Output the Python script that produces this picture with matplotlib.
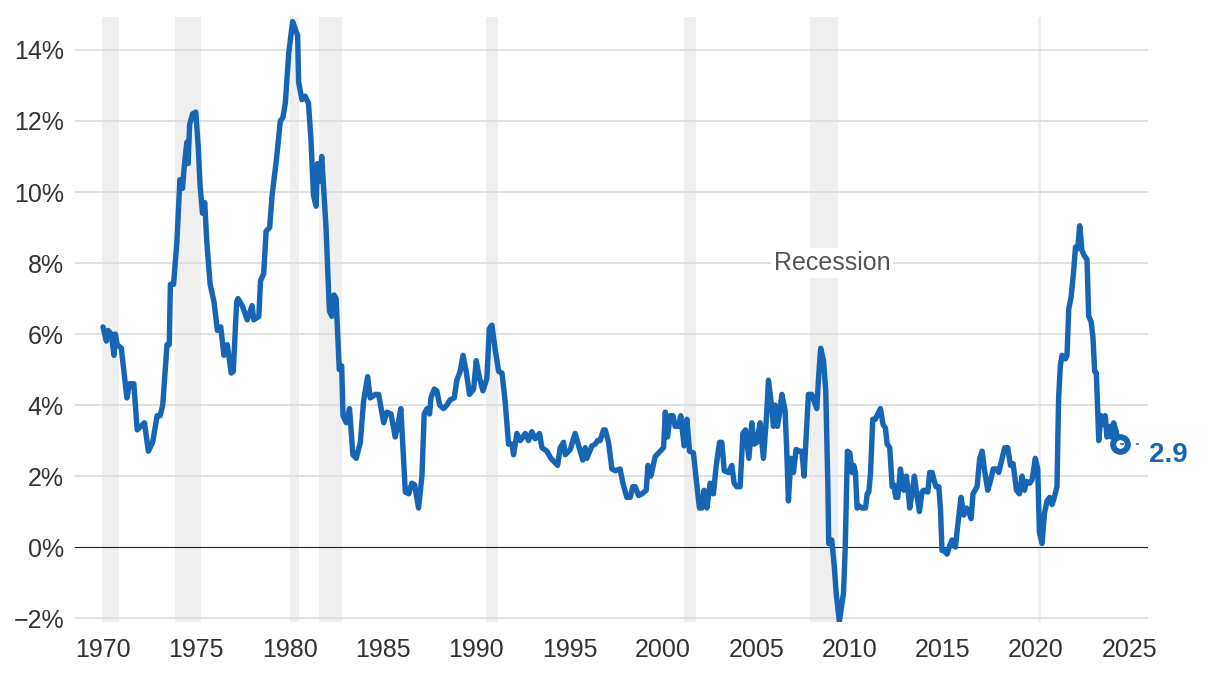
import numpy as np
import matplotlib
matplotlib.use('Agg')
import matplotlib.pyplot as plt

plt.rcParams['font.family'] = ['Liberation Sans', 'DejaVu Sans']

# CPI, year-over-year % change
dates_1970s = [1970.0, 1970.18, 1970.27, 1970.44, 1970.59, 1970.66, 1970.76, 1970.98,
               1971.28, 1971.42, 1971.65, 1971.83, 1972.22, 1972.43, 1972.66, 1972.90,
               1973.06, 1973.20, 1973.43, 1973.55, 1973.61, 1973.78, 1973.96, 1974.12,
               1974.26, 1974.35, 1974.49, 1974.56, 1974.64, 1974.80, 1974.97, 1975.10,
               1975.20, 1975.33, 1975.45, 1975.56, 1975.74, 1975.95, 1976.13, 1976.31,
               1976.48, 1976.66, 1976.87, 1976.98, 1977.16, 1977.23, 1977.46, 1977.73,
               1977.99, 1978.08, 1978.35, 1978.44, 1978.61, 1978.74, 1978.93, 1979.06,
               1979.29, 1979.50, 1979.64, 1979.77, 1979.95]
cpi_1970s = [6.2, 5.8, 6.1, 6.0, 5.4, 6.0, 5.7, 5.6,
             4.2, 4.6, 4.6, 3.3, 3.5, 2.7, 2.95, 3.7,
             3.7, 4.0, 5.7, 5.7, 7.4, 7.4, 8.6, 10.35,
             10.1, 10.7, 11.4, 10.8, 11.9, 12.2, 12.25, 11.3,
             10.2, 9.4, 9.7, 8.6, 7.4, 6.9, 6.1, 6.2,
             5.4, 5.7, 4.9, 4.95, 6.9, 7.0, 6.8, 6.4,
             6.8, 6.4, 6.5, 7.5, 7.7, 8.9, 9.0, 9.9,
             10.9, 12.0, 12.1, 12.5, 13.9]

dates_1980s = [1980.16, 1980.30, 1980.43, 1980.48, 1980.66, 1980.83, 1981.01, 1981.14,
               1981.28, 1981.42, 1981.49, 1981.60, 1981.72, 1981.95, 1982.13, 1982.26,
               1982.38, 1982.49, 1982.66, 1982.79, 1982.86, 1983.04, 1983.21, 1983.39,
               1983.57, 1983.79, 1983.96, 1984.18, 1984.32, 1984.59, 1984.77, 1985.04,
               1985.21, 1985.43, 1985.66, 1985.79, 1985.96, 1986.20, 1986.38, 1986.55,
               1986.70, 1986.91, 1987.09, 1987.21, 1987.36, 1987.50, 1987.57, 1987.75,
               1987.89, 1988.04, 1988.25, 1988.43, 1988.61, 1988.82, 1988.96, 1989.14,
               1989.29, 1989.46, 1989.64, 1989.86]
cpi_1980s = [14.8, 14.6, 14.4, 13.1, 12.6, 12.7, 12.5, 11.5,
             9.9, 9.6, 10.8, 10.3, 11.0, 9.0, 6.65, 6.5,
             7.1, 7.0, 5.0, 5.1, 3.7, 3.5, 3.9, 2.6,
             2.5, 2.95, 4.1, 4.8, 4.2, 4.3, 4.3, 3.5,
             3.8, 3.75, 3.1, 3.4, 3.9, 1.55, 1.5, 1.8,
             1.75, 1.1, 2.0, 3.75, 3.9, 3.75, 4.2, 4.45,
             4.4, 4.0, 3.9, 4.0, 4.15, 4.2, 4.7, 4.95,
             5.4, 4.95, 4.3, 4.45]

dates_1990s = [1990.0, 1990.18, 1990.36, 1990.57, 1990.70, 1990.84, 1991.02, 1991.20,
               1991.38, 1991.55, 1991.73, 1991.91, 1992.0, 1992.18, 1992.36, 1992.63,
               1992.80, 1992.98, 1993.16, 1993.39, 1993.52, 1993.79, 1994.0, 1994.18,
               1994.36, 1994.5, 1994.68, 1994.77, 1995.04, 1995.30, 1995.57, 1995.71,
               1995.84, 1995.93, 1996.20, 1996.38, 1996.5, 1996.64, 1996.82, 1996.91,
               1997.09, 1997.27, 1997.45, 1997.71, 1997.86, 1998.07, 1998.25, 1998.39,
               1998.52, 1998.70, 1998.88, 1999.11, 1999.20, 1999.36, 1999.59, 1999.86]
cpi_1990s = [5.25, 4.75, 4.4, 4.75, 6.15, 6.25, 5.55, 4.95,
             4.9, 4.1, 2.9, 2.9, 2.6, 3.2, 3.0, 3.2,
             3.0, 3.25, 3.05, 3.2, 2.8, 2.7, 2.5, 2.4,
             2.3, 2.8, 2.95, 2.6, 2.75, 3.2, 2.7, 2.45,
             2.8, 2.5, 2.85, 2.9, 3.0, 3.0, 3.3, 3.3,
             2.95, 2.2, 2.15, 2.2, 1.8, 1.4, 1.4, 1.7,
             1.7, 1.45, 1.5, 1.6, 2.3, 2.0, 2.55, 2.7]

dates_2000s = [2000.04, 2000.13, 2000.25, 2000.39, 2000.54, 2000.66, 2000.84, 2000.96,
               2001.14, 2001.29, 2001.43, 2001.64, 2001.79, 2001.96, 2002.09, 2002.21,
               2002.36, 2002.54, 2002.71, 2002.86, 2003.04, 2003.16, 2003.29, 2003.52,
               2003.70, 2003.82, 2003.96, 2004.14, 2004.29, 2004.43, 2004.61, 2004.77,
               2004.89, 2005.04, 2005.21, 2005.39, 2005.54, 2005.66, 2005.79, 2005.93,
               2006.02, 2006.14, 2006.25, 2006.38, 2006.55, 2006.64, 2006.73, 2006.86,
               2007.0, 2007.14, 2007.32, 2007.45, 2007.57, 2007.68, 2007.80, 2007.98,
               2008.11, 2008.25, 2008.36, 2008.46, 2008.61, 2008.73, 2008.84, 2008.89,
               2009.05, 2009.18, 2009.29, 2009.46, 2009.68, 2009.77, 2009.89]
cpi_2000s = [2.8, 3.8, 3.1, 3.7, 3.7, 3.4, 3.4, 3.7,
             2.85, 3.6, 2.7, 2.65, 1.9, 1.1, 1.1, 1.6,
             1.1, 1.8, 1.5, 2.3, 2.95, 2.95, 2.15, 2.1,
             2.3, 1.8, 1.7, 1.7, 3.2, 3.3, 2.5, 3.5,
             2.9, 2.95, 3.5, 2.5, 3.55, 4.7, 4.15, 3.4,
             4.0, 3.4, 3.75, 4.3, 3.85, 2.7, 1.3, 2.5,
             2.1, 2.75, 2.7, 2.7, 2.0, 3.1, 4.3, 4.3,
             4.1, 3.9, 4.9, 5.6, 5.25, 4.4, 1.8, 0.1,
             0.2, -0.5, -1.3, -2.1, -1.3, -0.1, 2.7]

dates_2010s = [2010.02, 2010.14, 2010.23, 2010.32, 2010.41, 2010.55, 2010.68, 2010.86,
               2010.95, 2011.04, 2011.13, 2011.25, 2011.39, 2011.52, 2011.66, 2011.80,
               2011.93, 2012.02, 2012.16, 2012.29, 2012.38, 2012.48, 2012.59, 2012.73,
               2012.91, 2013.05, 2013.14, 2013.23, 2013.36, 2013.48, 2013.63, 2013.75,
               2013.89, 2013.98, 2014.20, 2014.30, 2014.43, 2014.55, 2014.64, 2014.79,
               2014.88, 2014.96, 2015.09, 2015.23, 2015.38, 2015.5, 2015.68, 2015.80,
               2015.98, 2016.13, 2016.27, 2016.39, 2016.52, 2016.62, 2016.84, 2016.98,
               2017.11, 2017.23, 2017.41, 2017.55, 2017.70, 2017.88, 2018.0, 2018.18,
               2018.32, 2018.48, 2018.63, 2018.77, 2018.95, 2019.11, 2019.25, 2019.38,
               2019.48, 2019.66, 2019.79, 2019.96]
cpi_2010s = [2.65, 2.1, 2.3, 2.1, 1.1, 1.15, 1.1, 1.1,
             1.5, 1.55, 2.1, 3.6, 3.6, 3.75, 3.9, 3.45,
             3.35, 2.9, 2.8, 1.7, 1.75, 1.4, 1.4, 2.2,
             1.6, 2.0, 1.6, 1.1, 1.55, 2.0, 1.4, 1.0,
             1.55, 1.6, 1.55, 2.1, 2.1, 1.85, 1.7, 1.7,
             1.05, -0.1, -0.1, -0.2, 0.05, 0.2, 0.0, 0.6,
             1.4, 0.9, 1.1, 1.0, 0.8, 1.5, 1.7, 2.5,
             2.7, 2.2, 1.6, 1.85, 2.2, 2.2, 2.1, 2.5,
             2.8, 2.8, 2.3, 2.35, 1.6, 1.5, 2.0, 1.6,
             1.85, 1.8, 1.9, 2.5]

dates_2020s = [2020.09, 2020.18, 2020.32, 2020.45, 2020.59, 2020.73, 2020.86, 2020.98,
               2021.12, 2021.21, 2021.30, 2021.39, 2021.57, 2021.66, 2021.75, 2021.88,
               2022.02, 2022.11, 2022.23, 2022.34, 2022.46, 2022.59, 2022.73, 2022.82,
               2022.95, 2023.05, 2023.14, 2023.23, 2023.36, 2023.48, 2023.63, 2023.71,
               2023.80, 2023.95, 2024.02, 2024.16, 2024.30, 2024.39, 2024.48]
cpi_2020s = [2.2, 0.4, 0.1, 0.95, 1.3, 1.4, 1.2, 1.4,
             1.7, 4.2, 5.1, 5.4, 5.3, 5.4, 6.7, 7.05,
             7.8, 8.45, 8.4, 9.05, 8.35, 8.2, 8.1, 6.5,
             6.35, 5.9, 4.95, 4.9, 3.0, 3.7, 3.45, 3.7,
             3.1, 3.4, 3.1, 3.5, 3.25, 2.95, 2.9]

# recession periods (start, end)
recessions = [(1969.92, 1970.85), (1973.87, 1975.24), (1980.04, 1980.48),
              (1981.55, 1982.82), (1990.54, 1991.16), (2001.14, 2001.8),
              (2007.9, 2009.4), (2020.13, 2020.29)]

y_ticks = [-2, 0, 2, 4, 6, 8, 10, 12, 14]
x_ticks = [1970, 1975, 1980, 1985, 1990, 1995, 2000, 2005, 2010, 2015, 2020, 2025]

dates = np.array(dates_1970s + dates_1980s + dates_1990s + dates_2000s + dates_2010s + dates_2020s)
cpi = np.array(cpi_1970s + cpi_1980s + cpi_1990s + cpi_2000s + cpi_2010s + cpi_2020s)

blue = '#1766B5'
fig = plt.figure(figsize=(12.2, 6.76), dpi=100)
ax = fig.add_axes([0.0615, 0.0799, 0.8795, 0.895])

for start, end in recessions:
    ax.axvspan(start, end, color='#efefef', lw=0, zorder=0)

for v in y_ticks:
    if v == 0:
        ax.axhline(0, color='#222222', lw=0.8, zorder=1)
    else:
        ax.axhline(v, color='#dcdcdc', lw=1.2, zorder=1)

ax.plot(dates, cpi, color=blue, lw=3.9, solid_joinstyle='round', solid_capstyle='round', zorder=3)

# end point marker + label
ax.plot(dates[-1], cpi[-1], 'o', ms=10.6, mfc='white', mec=blue, mew=4.3, zorder=4)
ax.plot([dates[-1], 2025.52], [cpi[-1], cpi[-1]], color=blue, lw=1.1,
        linestyle=(0, (2.6, 7.8)), zorder=5, clip_on=False)
ax.text(2026.05, cpi[-1] - 0.3, f'{cpi[-1]:.1f}', color=blue, fontsize=20,
        fontweight='bold', ha='left', va='center', clip_on=False)

ax.text(2009.07, 8.0, 'Recession', color='#555555', fontsize=18, ha='center', va='center',
        bbox=dict(facecolor='white', edgecolor='none', pad=2), zorder=2)

ax.set_xlim(1968.5, 2026.0)
ax.set_ylim(-2.11, 14.93)
ax.set_xticks(x_ticks)
ax.set_xticklabels([str(x) for x in x_ticks])
ax.set_yticks(y_ticks)
ax.set_yticklabels([f'{v}%'.replace('-', '\u2212') for v in y_ticks])
ax.tick_params(axis='both', length=0, labelsize=18, labelcolor='#333333')
ax.tick_params(axis='x', pad=11.5)
ax.tick_params(axis='y', pad=8)
for s in ax.spines.values():
    s.set_visible(False)

fig.savefig('out.png', dpi=100)
